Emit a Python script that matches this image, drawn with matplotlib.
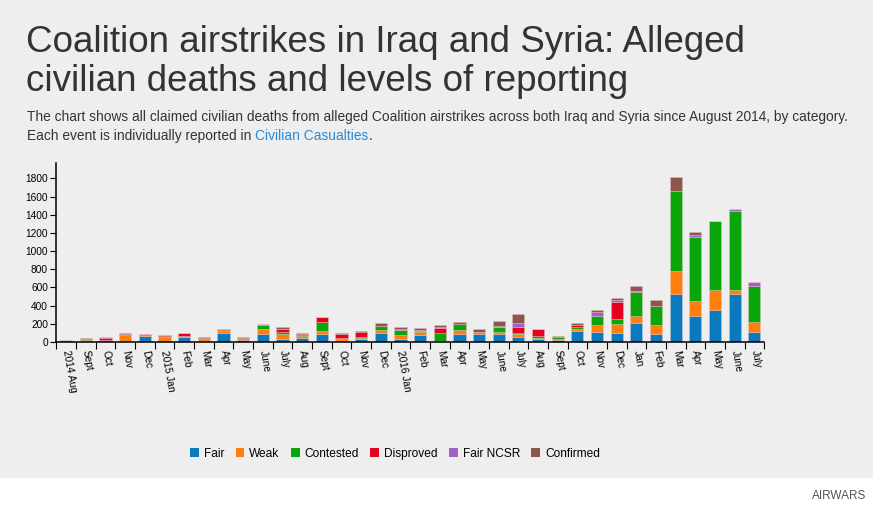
import numpy as np
import matplotlib
matplotlib.use("Agg")
import matplotlib.pyplot as plt
from matplotlib.patches import Patch, Rectangle

plt.rcParams['font.family'] = ['Liberation Sans', 'DejaVu Sans']

months = ["2014 Aug", "Sept", "Oct", "Nov", "Dec", "2015 Jan", "Feb", "Mar", "Apr", "May",
          "June", "July", "Aug", "Sept", "Oct", "Nov", "Dec", "2016 Jan", "Feb", "Mar",
          "Apr", "May", "June", "July", "Aug", "Sept", "Oct", "Nov", "Dec", "Jan",
          "Feb", "Mar", "Apr", "May", "June", "July"]

fair = [3, 15, 5, 15, 70, 5, 55, 10, 95, 20, 90, 35, 40, 92, 10, 35, 100, 35, 80, 5,
        88, 90, 88, 55, 30, 20, 117, 106, 95, 213, 84, 528, 282, 352, 528, 114]
weak = [2, 10, 15, 60, 5, 45, 15, 20, 25, 20, 55, 55, 25, 30, 20, 10, 30, 45, 25, 5,
        40, 15, 18, 30, 15, 10, 25, 77, 103, 77, 103, 257, 165, 224, 48, 103]
contested = [20, 8, 5, 10, 0, 20, 0, 10, 15, 0, 45, 20, 10, 100, 15, 15, 50, 50, 20, 90,
             70, 5, 55, 15, 20, 30, 25, 103, 51, 257, 205, 873, 708, 752, 869, 403]
disproved = [0, 5, 20, 5, 12, 5, 25, 0, 5, 0, 0, 30, 10, 50, 40, 50, 0, 0, 0, 50,
             0, 0, 0, 70, 73, 0, 25, 0, 187, 0, 0, 0, 0, 0, 0, 0]
fair_ncsr = [0, 0, 5, 3, 5, 0, 8, 0, 5, 5, 5, 5, 0, 0, 0, 0, 0, 15, 10, 15,
             0, 0, 12, 35, 0, 0, 0, 44, 22, 18, 0, 0, 18, 0, 15, 37]
confirmed = [2, 10, 10, 7, 0, 5, 0, 20, 0, 10, 0, 25, 15, 0, 15, 10, 25, 15, 20, 25,
             18, 30, 60, 107, 0, 10, 20, 26, 22, 55, 73, 158, 40, 0, 0, 0]

series = [("Fair", fair, "#0b79bd"),
          ("Weak", weak, "#ff7f0e"),
          ("Contested", contested, "#0aa50a"),
          ("Disproved", disproved, "#e6001f"),
          ("Fair NCSR", fair_ncsr, "#a062c9"),
          ("Confirmed", confirmed, "#8c564b")]

W, H = 873, 505
fig = plt.figure(figsize=(W / 100, H / 100), dpi=100)
fig.patch.set_facecolor("white")
fig.patches.append(Rectangle((0, 27 / H), 1, 1 - 27 / H, transform=fig.transFigure,
                             facecolor="#eeeeee", edgecolor="none", zorder=-10))

ax = fig.add_axes([56.3 / W, 1 - 342 / H, (764.2 - 56.3) / W, (342 - 162.5) / H])
ax.set_facecolor("none")

x = np.arange(len(months))
bottom = np.zeros(len(months))
for name, vals, col in series:
    vals = np.array(vals, dtype=float)
    ax.bar(x, vals, width=0.62, bottom=bottom, color=col, label=name,
           edgecolor=(1, 0.8, 0.8, 0.4), linewidth=0.5)
    bottom += vals

ax.set_xlim(-0.5, len(months) - 0.5)
ax.set_ylim(0, 1975)
ax.set_yticks(np.arange(0, 1801, 200))
ax.tick_params(axis="y", labelsize=7.3, length=4, width=0.8, pad=2, colors="black")
for s in ["top", "right"]:
    ax.spines[s].set_visible(False)
for s in ["left", "bottom"]:
    ax.spines[s].set_linewidth(1.1)

ax.set_xticks(np.arange(-0.5, len(months), 1), minor=True)
ax.tick_params(axis="x", which="minor", length=5, width=0.8)
ax.set_xticks(x)
ax.set_xticklabels(months, rotation=-80, rotation_mode="anchor", ha="left", va="center",
                   fontsize=7.3)
ax.tick_params(axis="x", which="major", length=0, pad=6)

fig.text(26 / W, 1 - 25 / H,
         "Coalition airstrikes in Iraq and Syria: Alleged\ncivilian deaths and levels of reporting",
         fontsize=26.5, color="#333333", va="top", ha="left", linespacing=1.13)
fig.text(27 / W, 1 - 117 / H,
         "The chart shows all claimed civilian deaths from alleged Coalition airstrikes across both Iraq and Syria since August 2014, by category.",
         fontsize=9.95, color="#333333", va="center", ha="left")
t1 = fig.text(27 / W, 1 - 136 / H, "Each event is individually reported in ",
              fontsize=9.95, color="#333333", va="center", ha="left")
fig.canvas.draw()
bb = t1.get_window_extent()
t2 = fig.text(bb.x1 / W, 1 - 136 / H, "Civilian Casualties", fontsize=9.95, color="#2b8ad4",
              va="center", ha="left")
bb2 = t2.get_window_extent()
fig.text(bb2.x1 / W, 1 - 136 / H, ".", fontsize=9.95, color="#333333", va="center", ha="left")

handles = [Patch(facecolor=c, edgecolor="none", label=n) for n, _, c in series]
fig.legend(handles=handles, loc="center", bbox_to_anchor=(395 / W, 1 - 454 / H), ncol=6,
           frameon=False, fontsize=8.6, handlelength=0.75, handleheight=0.75,
           handletextpad=0.4, columnspacing=0.95)

fig.text(866 / W, 1 - 496 / H, "AIRWARS", fontsize=8.5, color="#555555", ha="right", va="center")

fig.savefig("out.png", dpi=100)
